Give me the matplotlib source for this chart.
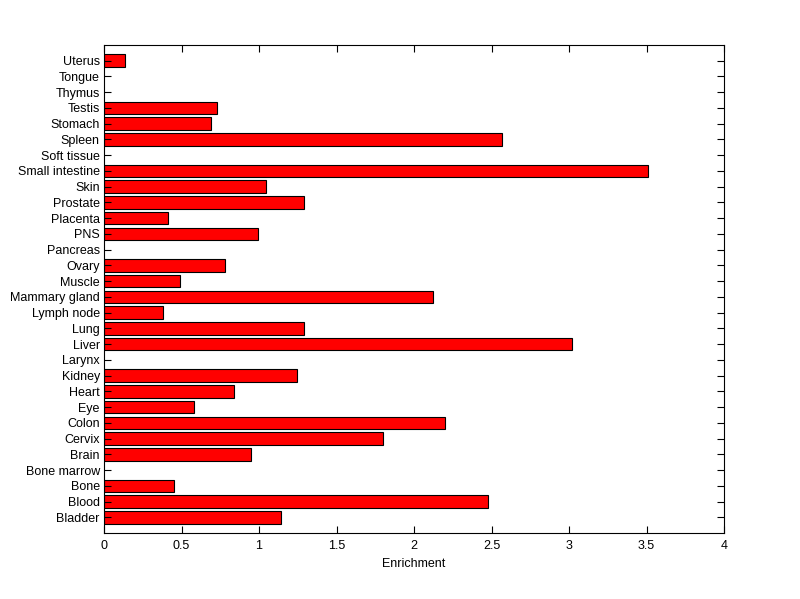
import numpy as np
import matplotlib
matplotlib.use('Agg')
import matplotlib.pyplot as plt

# tissue enrichment, bottom to top as drawn
tissues = ['Bladder', 'Blood', 'Bone', 'Bone marrow', 'Brain', 'Cervix', 'Colon',
           'Eye', 'Heart', 'Kidney', 'Larynx', 'Liver', 'Lung', 'Lymph node',
           'Mammary gland', 'Muscle', 'Ovary', 'Pancreas', 'PNS', 'Placenta',
           'Prostate', 'Skin', 'Small intestine', 'Soft tissue', 'Spleen',
           'Stomach', 'Testis', 'Thymus', 'Tongue', 'Uterus']
enrichment = [1.14, 2.475, 0.45, 0.0, 0.946, 1.797, 2.197,
              0.582, 0.836, 1.244, 0.0, 3.017, 1.289, 0.381,
              2.12, 0.491, 0.778, 0.0, 0.991, 0.416,
              1.293, 1.043, 3.508, 0.0, 2.566,
              0.688, 0.727, 0.0, 0.0, 0.136]

plt.rcParams['font.family'] = ['Liberation Sans', 'DejaVu Sans']

fig = plt.figure(figsize=(8, 5.99), dpi=100)
ax = fig.add_axes([0.13, 0.11, 0.775, 0.815])

pos = np.arange(1, len(tissues) + 1)
vals = np.array(enrichment)
nz = vals > 0
ax.barh(pos[nz], vals[nz], height=0.8, color='#ff0000', edgecolor='k', linewidth=0.8)

ax.set_xlim(0, 4)
ax.set_ylim(0, 31)
ax.set_xticks(np.arange(0, 4.01, 0.5))
ax.set_xticklabels(['0', '0.5', '1', '1.5', '2', '2.5', '3', '3.5', '4'])
ax.set_yticks(pos)
ax.set_yticklabels(tissues)
ax.tick_params(direction='in', top=True, right=True, length=5, width=0.8,
               labelsize=9, colors='k')
ax.tick_params(axis='x', pad=5)
ax.tick_params(axis='y', pad=3)
for s in ax.spines.values():
    s.set_linewidth(0.8)
ax.set_xlabel('Enrichment', fontsize=9, labelpad=4)

fig.savefig('out.png', dpi=100)
